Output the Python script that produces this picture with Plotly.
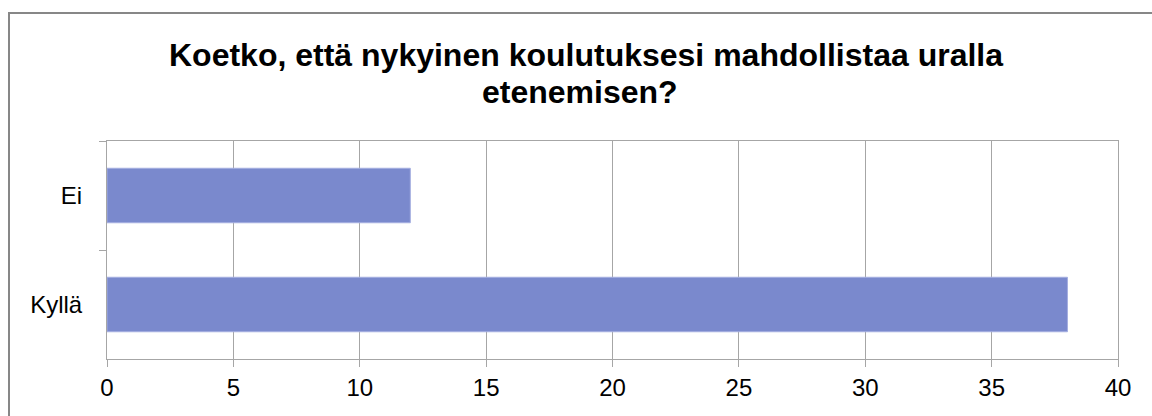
import plotly.graph_objects as go

categories = ["Ei", "Kyllä"]
values = [12, 38]
x_ticks = [0, 5, 10, 15, 20, 25, 30, 35, 40]
title_line1 = "Koetko, että nykyinen koulutuksesi mahdollistaa uralla"
title_line2 = "etenemisen?"

W, H = 1152, 416
L, R, T, B = 107, 1118, 141, 359  # plot area in pixels

def px_x(p):
    return (p - L) / (R - L)

def px_y(p):
    return (B - p) / (B - T)

FONT = "Liberation Sans, Arial, sans-serif"
GRID = "#a6a6a6"

fig = go.Figure(
    go.Bar(
        x=values,
        y=categories,
        orientation="h",
        marker=dict(color="#7A89CD", line=dict(color="#A4AEE0", width=1)),
    )
)

fig.update_layout(
    width=W,
    height=H,
    margin=dict(l=L, r=W - R, t=T, b=H - B),
    paper_bgcolor="white",
    plot_bgcolor="white",
    bargap=0.5,
    showlegend=False,
    font=dict(family=FONT, color="black", size=24),
    annotations=[
        dict(text="<b>" + title_line1 + "</b>", xref="paper", yref="paper",
             x=px_x(586), y=px_y(55), xanchor="center", yanchor="middle",
             showarrow=False, font=dict(size=32, family=FONT, color="black")),
        dict(text="<b>" + title_line2 + "</b>", xref="paper", yref="paper",
             x=px_x(580), y=px_y(92), xanchor="center", yanchor="middle",
             showarrow=False, font=dict(size=32, family=FONT, color="black")),
    ],
    shapes=[
        dict(type="rect", xref="paper", yref="paper",
             x0=px_x(9), x1=px_x(1170), y0=px_y(13), y1=px_y(430),
             line=dict(color="#878787", width=2), fillcolor="rgba(0,0,0,0)",
             layer="below"),
    ],
)

fig.update_xaxes(
    range=[0, 40],
    tickvals=x_ticks,
    showgrid=True,
    gridcolor=GRID,
    gridwidth=1,
    showline=True,
    linecolor=GRID,
    linewidth=1,
    mirror=True,
    ticks="outside",
    ticklen=7,
    tickcolor=GRID,
    tickfont=dict(size=24, family=FONT, color="black"),
    zeroline=False,
    fixedrange=True,
)

fig.update_yaxes(
    autorange="reversed",
    showgrid=False,
    showline=True,
    linecolor=GRID,
    linewidth=1,
    mirror=True,
    ticks="outside",
    ticklen=7,
    tickcolor=GRID,
    tickson="boundaries",
    tickfont=dict(size=24, family=FONT, color="black"),
    ticklabelstandoff=19,
    fixedrange=True,
)

fig.write_html(
    "out.html",
    config={"displayModeBar": False, "staticPlot": True},
    post_script="document.body.style.margin='0';document.body.style.overflow='hidden';",
)
